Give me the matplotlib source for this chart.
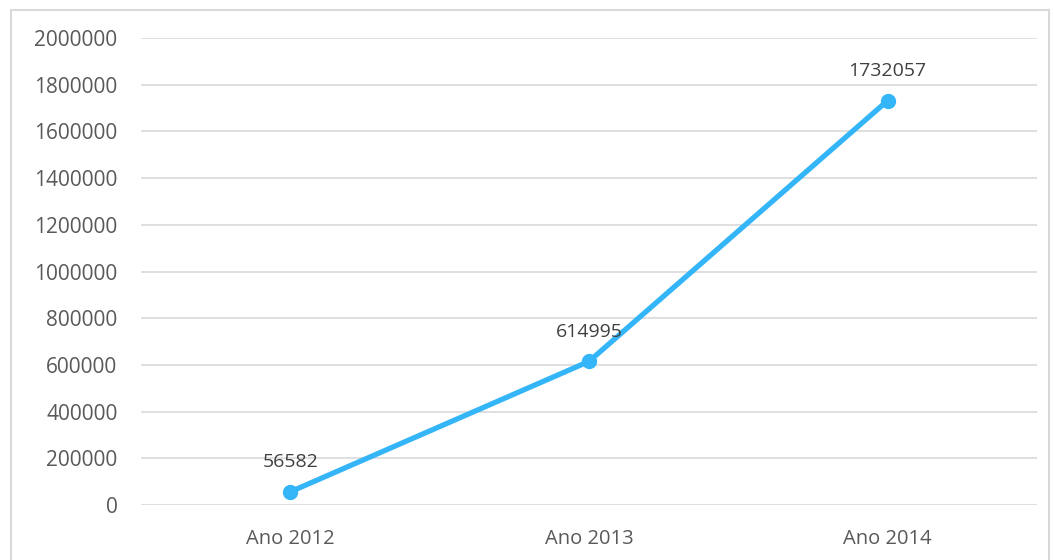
import matplotlib
matplotlib.use("Agg")
import matplotlib.pyplot as plt
from matplotlib.patches import Rectangle

categories = ["Ano 2012", "Ano 2013", "Ano 2014"]
values = [56582, 614995, 1732057]
yticks = [0, 200000, 400000, 600000, 800000, 1000000, 1200000, 1400000, 1600000, 1800000, 2000000]

plt.rcParams['font.family'] = ['Open Sans', 'DejaVu Sans']

W, H = 1053, 560
fig = plt.figure(figsize=(W / 100, H / 100), dpi=100)
fig.patch.set_facecolor("white")

# outer chart border
fig.patches.append(Rectangle((10.5 / W, -0.01), (1049 - 10.5) / W, 1 - 9.5 / H + 0.01,
                             transform=fig.transFigure, fill=False,
                             edgecolor="#d9d9d9", linewidth=1.5))

ax = fig.add_axes([141 / W, 55 / H, (1037 - 141) / W, (505 - 38) / H])
x = list(range(len(categories)))
ax.plot(x, values, color="#33B5F8", linewidth=3.8, marker="o", markersize=10,
        solid_capstyle="round", zorder=3)
for xi, v in zip(x, values):
    ax.annotate(str(v), (xi, v), xytext=(0, 15), textcoords="offset points",
                ha="center", va="bottom", fontsize=14, color="#404040")

ax.set_xlim(-0.5, len(categories) - 0.5)
ax.set_ylim(0, 2000000)
ax.set_yticks(yticks)
ax.set_yticklabels([str(t) for t in yticks])
ax.set_xticks(x)
ax.set_xticklabels(categories)
ax.tick_params(axis="both", length=0, labelcolor="#595959")
ax.tick_params(axis="y", pad=17, labelsize=15)
ax.tick_params(axis="x", pad=17, labelsize=14.5)
ax.grid(axis="y", color="#d9d9d9", linewidth=1.2)
ax.set_axisbelow(True)
for s in ax.spines.values():
    s.set_visible(False)

fig.savefig("out.png", dpi=100)
